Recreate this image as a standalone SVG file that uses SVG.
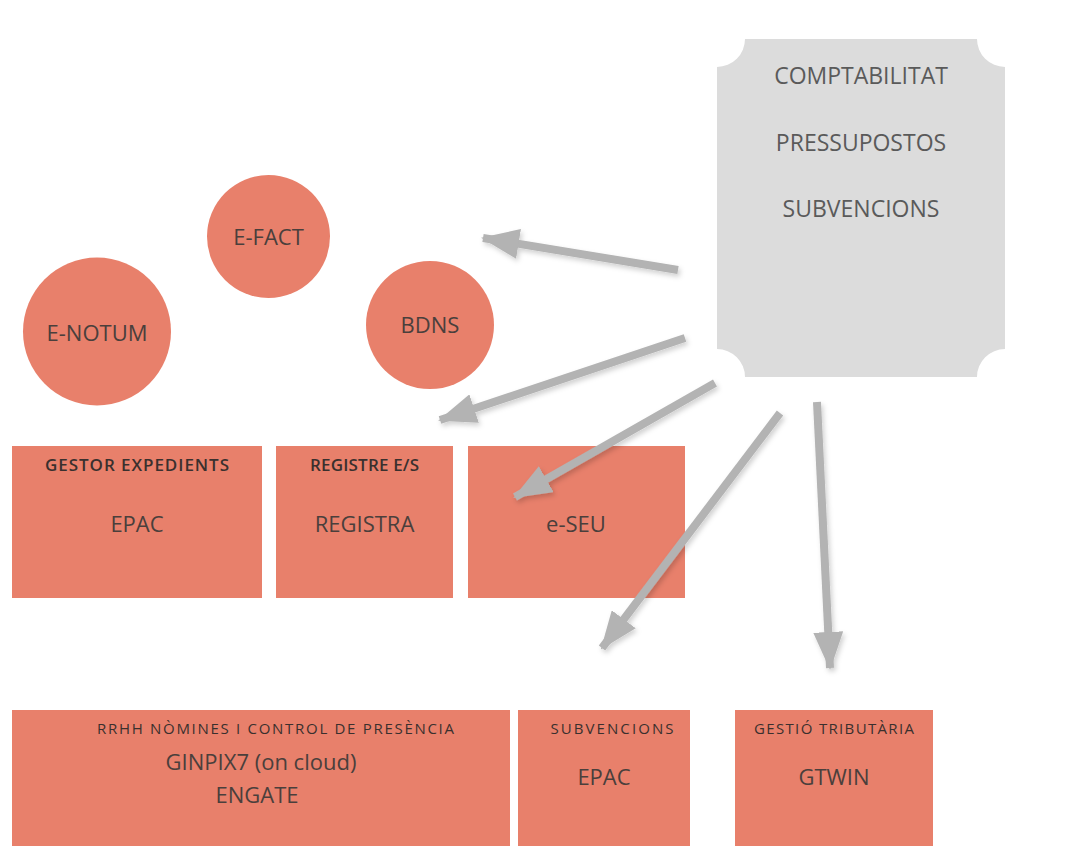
<svg xmlns="http://www.w3.org/2000/svg" width="1069" height="857" viewBox="0 0 1069 857">
<defs>
<style>
.node{fill:#E8806B;}
.gray{fill:#DCDCDC;}
.t{font-family:"Open Sans","Liberation Sans",sans-serif;fill:#4a3f3c;text-anchor:middle;font-size:22px;}
.tg{font-family:"Open Sans","Liberation Sans",sans-serif;fill:#5a5a5a;text-anchor:middle;font-size:23px;}
.h{font-family:"Open Sans","Liberation Sans",sans-serif;fill:#3a302e;text-anchor:middle;font-size:17px;font-weight:600;}
.h2{font-family:"Open Sans","Liberation Sans",sans-serif;fill:#3a302e;text-anchor:middle;font-size:15px;}
.c{stroke:#b3b3b3;stroke-width:8;fill:none;marker-end:url(#ah);}
</style>
<marker id="ah" markerUnits="userSpaceOnUse" viewBox="0 0 38 30" refX="36" refY="15" markerWidth="38" markerHeight="30" orient="auto">
<path d="M0 0 L38 15 L0 30 Z" fill="#b3b3b3"/>
</marker>
<filter id="sh" x="-10%" y="-10%" width="120%" height="120%">
<feDropShadow dx="2" dy="3" stdDeviation="2.5" flood-color="#000" flood-opacity="0.18"/>
</filter>
</defs>
<rect width="1069" height="857" fill="#fff"/>

<g id="comptabilitat">
<path class="gray" d="M745 39 H977 A28 28 0 0 0 1005 67 V349 A28 28 0 0 0 977 377 H745 A28 28 0 0 0 717 349 V67 A28 28 0 0 0 745 39 Z"/>
<text class="tg" x="861" y="84">COMPTABILITAT</text>
<text class="tg" x="861" y="151">PRESSUPOSTOS</text>
<text class="tg" x="861" y="217">SUBVENCIONS</text>
</g>

<g id="e-fact">
<circle class="node" cx="268.5" cy="236.5" r="61.5"/>
<text class="t" x="268.5" y="245">E-FACT</text>
</g>
<g id="e-notum">
<circle class="node" cx="97" cy="331.5" r="74"/>
<text class="t" x="97" y="341">E-NOTUM</text>
</g>
<g id="bdns">
<circle class="node" cx="430" cy="325" r="64"/>
<text class="t" x="430" y="333">BDNS</text>
</g>

<g id="gestor-expedients">
<rect class="node" x="12" y="446" width="250" height="152"/>
<text class="h" x="137" y="471" textLength="184">GESTOR EXPEDIENTS</text>
<text class="t" x="137" y="532">EPAC</text>
</g>
<g id="registre">
<rect class="node" x="276" y="446" width="177" height="152"/>
<text class="h" x="364.5" y="471" textLength="109">REGISTRE E/S</text>
<text class="t" x="364.5" y="532">REGISTRA</text>
</g>
<g id="e-seu">
<rect class="node" x="468" y="446" width="217" height="152"/>
<text class="t" x="576" y="532">e-SEU</text>
</g>

<g id="rrhh">
<rect class="node" x="12" y="710" width="498" height="136"/>
<text class="h2" x="275.5" y="734" textLength="357">RRHH NÒMINES I CONTROL DE PRESÈNCIA</text>
<text class="t" x="261" y="770">GINPIX7 (on cloud)</text>
<text class="t" x="257" y="803">ENGATE</text>
</g>
<g id="subvencions">
<rect class="node" x="518" y="710" width="172" height="136"/>
<text class="h2" x="612" y="734" textLength="123">SUBVENCIONS</text>
<text class="t" x="604" y="785">EPAC</text>
</g>
<g id="gestio-tributaria">
<rect class="node" x="735" y="710" width="198" height="136"/>
<text class="h2" x="834" y="734" textLength="160">GESTIÓ TRIBUTÀRIA</text>
<text class="t" x="834" y="785">GTWIN</text>
</g>

<g id="connectors" filter="url(#sh)">
<line class="c" x1="678" y1="270" x2="483" y2="238"/>
<line class="c" x1="685" y1="338" x2="440" y2="420"/>
<line class="c" x1="715" y1="383" x2="515" y2="497"/>
<line class="c" x1="780" y1="413" x2="602" y2="648"/>
<line class="c" x1="817" y1="402" x2="830" y2="668"/>
</g>
</svg>
